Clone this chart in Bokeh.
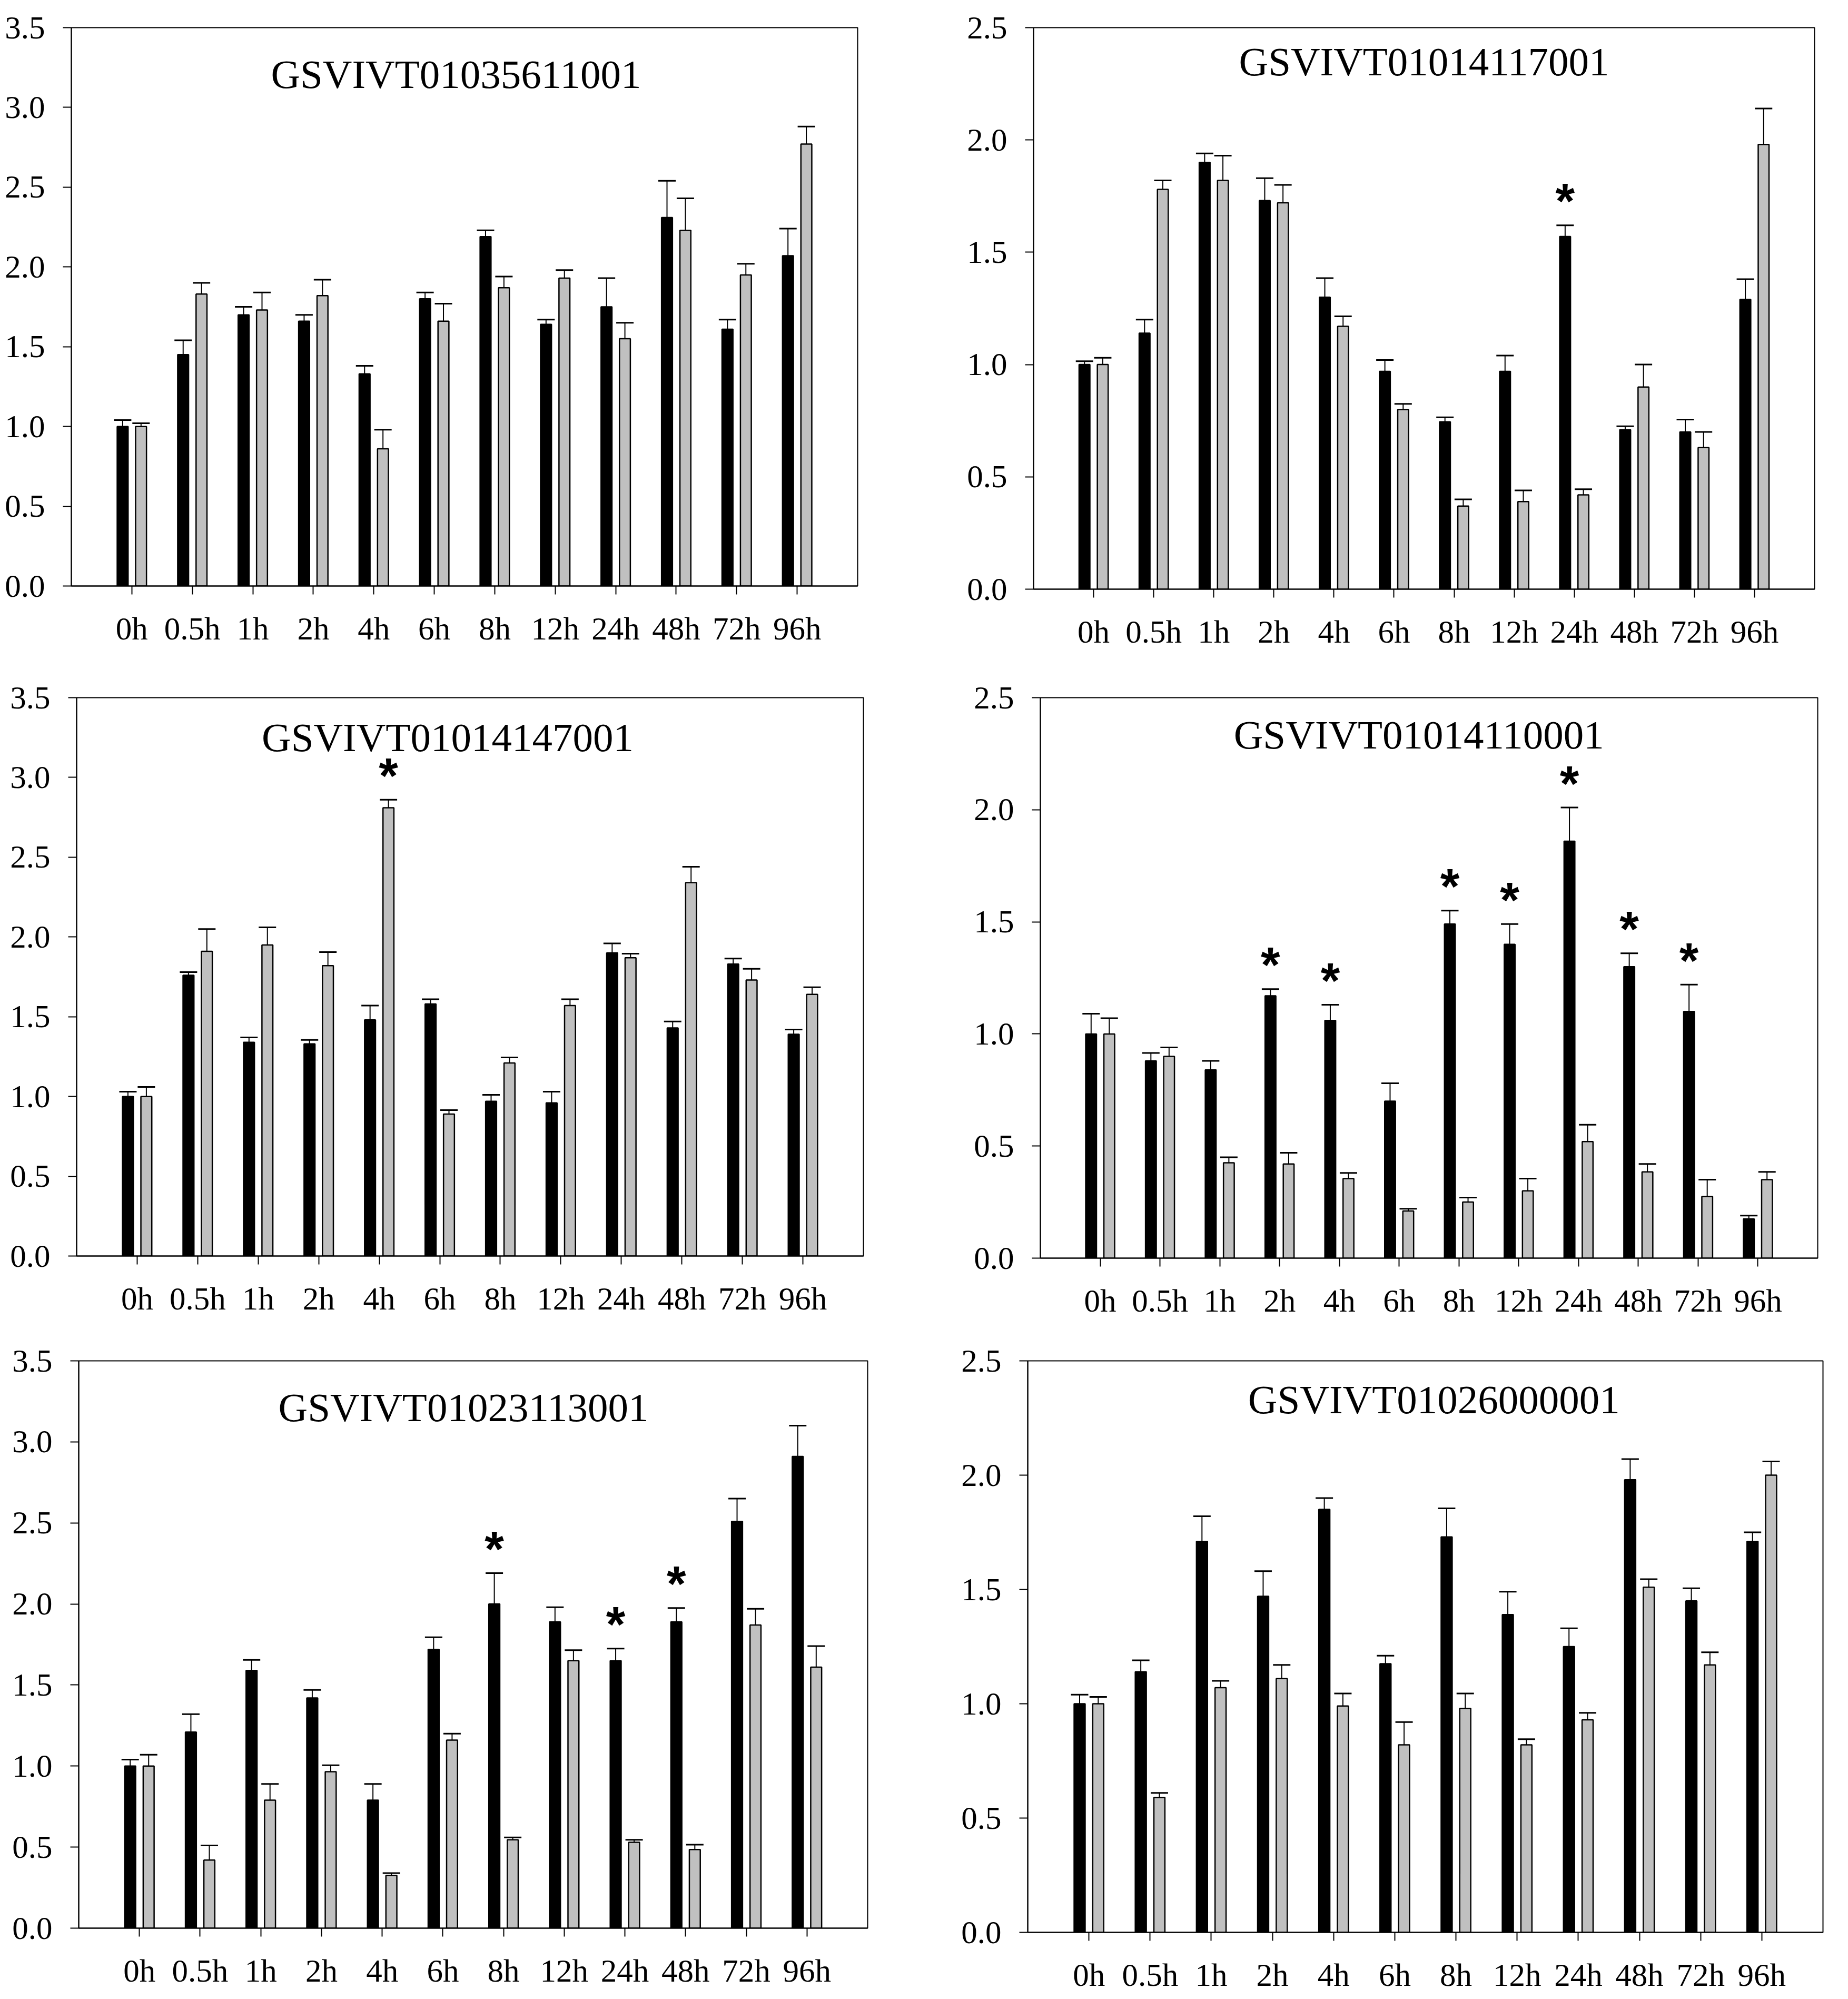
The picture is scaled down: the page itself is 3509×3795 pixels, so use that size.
import numpy as np
from bokeh.plotting import figure
from bokeh.models import (ColumnDataSource, FixedTicker, PrintfTickFormatter,
                          Whisker, TeeHead, Label, Range1d)
from bokeh.layouts import row, column
from bokeh.core.properties import value
from bokeh.embed import file_html
from bokeh.resources import INLINE

# ---------------- data ----------------
times = ["0h", "0.5h", "1h", "2h", "4h", "6h", "8h", "12h", "24h", "48h", "72h", "96h"]

genes = ["GSVIVT01035611001", "GSVIVT01014117001", "GSVIVT01014147001",
         "GSVIVT01014110001", "GSVIVT01023113001", "GSVIVT01026000001"]
y_max = [3.5, 2.5, 3.5, 2.5, 3.5, 2.5]

black_1 = [1.00, 1.45, 1.70, 1.66, 1.33, 1.80, 2.19, 1.64, 1.75, 2.31, 1.61, 2.07]
black_err_1 = [0.04, 0.09, 0.05, 0.04, 0.05, 0.04, 0.04, 0.03, 0.18, 0.23, 0.06, 0.17]
gray_1 = [1.00, 1.83, 1.73, 1.82, 0.86, 1.66, 1.87, 1.93, 1.55, 2.23, 1.95, 2.77]
gray_err_1 = [0.02, 0.07, 0.11, 0.10, 0.12, 0.11, 0.07, 0.05, 0.10, 0.20, 0.07, 0.11]

black_2 = [1.00, 1.14, 1.90, 1.73, 1.30, 0.97, 0.745, 0.97, 1.57, 0.71, 0.70, 1.29]
black_err_2 = [0.015, 0.06, 0.04, 0.10, 0.085, 0.05, 0.02, 0.07, 0.05, 0.015, 0.055, 0.09]
gray_2 = [1.00, 1.78, 1.82, 1.72, 1.17, 0.80, 0.37, 0.39, 0.42, 0.90, 0.63, 1.98]
gray_err_2 = [0.03, 0.04, 0.11, 0.08, 0.045, 0.025, 0.03, 0.05, 0.025, 0.10, 0.07, 0.16]

black_3 = [1.00, 1.76, 1.34, 1.33, 1.48, 1.58, 0.97, 0.96, 1.90, 1.43, 1.83, 1.39]
black_err_3 = [0.03, 0.02, 0.03, 0.025, 0.09, 0.03, 0.04, 0.07, 0.06, 0.04, 0.035, 0.03]
gray_3 = [1.00, 1.91, 1.95, 1.82, 2.81, 0.89, 1.21, 1.57, 1.87, 2.34, 1.73, 1.64]
gray_err_3 = [0.06, 0.14, 0.11, 0.085, 0.05, 0.025, 0.035, 0.04, 0.025, 0.10, 0.07, 0.045]

black_4 = [1.00, 0.88, 0.84, 1.17, 1.06, 0.70, 1.49, 1.40, 1.86, 1.30, 1.10, 0.175]
black_err_4 = [0.09, 0.035, 0.04, 0.03, 0.07, 0.08, 0.06, 0.09, 0.15, 0.06, 0.12, 0.015]
gray_4 = [1.00, 0.90, 0.425, 0.42, 0.355, 0.21, 0.25, 0.30, 0.52, 0.385, 0.275, 0.35]
gray_err_4 = [0.07, 0.04, 0.025, 0.05, 0.025, 0.01, 0.02, 0.055, 0.075, 0.035, 0.075, 0.035]

black_5 = [1.00, 1.21, 1.59, 1.42, 0.79, 1.72, 2.00, 1.89, 1.65, 1.89, 2.51, 2.91]
black_err_5 = [0.04, 0.11, 0.065, 0.05, 0.10, 0.075, 0.19, 0.09, 0.075, 0.085, 0.14, 0.19]
gray_5 = [1.00, 0.42, 0.79, 0.965, 0.325, 1.16, 0.545, 1.65, 0.53, 0.485, 1.87, 1.61]
gray_err_5 = [0.07, 0.09, 0.10, 0.04, 0.015, 0.04, 0.015, 0.065, 0.015, 0.03, 0.10, 0.13]

black_6 = [1.00, 1.14, 1.71, 1.47, 1.85, 1.175, 1.73, 1.39, 1.25, 1.98, 1.45, 1.71]
black_err_6 = [0.04, 0.05, 0.11, 0.11, 0.05, 0.035, 0.125, 0.10, 0.08, 0.09, 0.055, 0.04]
gray_6 = [1.00, 0.59, 1.07, 1.11, 0.99, 0.82, 0.98, 0.82, 0.93, 1.51, 1.17, 2.00]
gray_err_6 = [0.03, 0.02, 0.03, 0.06, 0.055, 0.10, 0.065, 0.025, 0.03, 0.035, 0.055, 0.06]

# significance marks (time labels)
black_star = [[], ["24h"], [], ["2h", "4h", "8h", "12h", "24h", "48h", "72h"],
              ["8h", "24h", "48h"], []]
gray_star = [[], [], ["4h"], [], [], []]

blacks = [black_1, black_2, black_3, black_4, black_5, black_6]
black_errs = [black_err_1, black_err_2, black_err_3, black_err_4, black_err_5, black_err_6]
grays = [gray_1, gray_2, gray_3, gray_4, gray_5, gray_6]
gray_errs = [gray_err_1, gray_err_2, gray_err_3, gray_err_4, gray_err_5, gray_err_6]

# ---------------- layout / style ----------------
# (left border, frame width, right border, top border, frame height, bottom border)
layout_px = [
    (135, 1493, 164, 52, 1060, 140),
    (170, 1483, 37, 34, 1066, 152),
    (145, 1494, 153, 72, 1060, 128),
    (183, 1476, 31, 68, 1064, 128),
    (149, 1498, 145, 71, 1077, 119),
    (159, 1510, 21, 67, 1085, 115),
]
# title anchor: (shift of centre in category units, centre distance below top in px)
title_pos = [(-0.14, 88), (0.0, 64), (-0.37, 75), (-0.17, 70), (-0.16, 88), (0.14, 73)]

BAR_W = 0.18
OFF = 0.152
GRAY = "#c0c0c0"
SERIF = "Liberation Serif"
STAR_GAP_PX = 38


def make_panel(k):
    lb, fw, rb, tb, fh, bb = layout_px[k]
    ymax = y_max[k]
    n = len(times)
    x = np.arange(1, n + 1)
    b = np.array(blacks[k]); be = np.array(black_errs[k])
    g = np.array(grays[k]); ge = np.array(gray_errs[k])
    src = ColumnDataSource(dict(xb=x - OFF, xg=x + OFF, b=b, g=g, bu=b + be, gu=g + ge))

    p = figure(x_range=Range1d(0, n + 1), y_range=Range1d(0, ymax),
               frame_width=fw, frame_height=fh,
               min_border_left=lb, min_border_right=rb,
               min_border_top=tb, min_border_bottom=bb,
               output_backend="svg", toolbar_location=None, tools="")
    p.vbar(x="xb", top="b", width=BAR_W, source=src,
           fill_color="black", line_color="black", line_width=2.5)
    p.vbar(x="xg", top="g", width=BAR_W, source=src,
           fill_color=GRAY, line_color="black", line_width=2.5)
    for base, lo, up in (("xb", "b", "bu"), ("xg", "g", "gu")):
        p.add_layout(Whisker(source=src, base=base, lower=lo, upper=up,
                             dimension="height", line_color="black", line_width=2,
                             lower_head=None,
                             upper_head=TeeHead(size=33, line_width=3, line_color="black")))

    sx, sy = [], []
    for t in black_star[k]:
        i = times.index(t)
        sx.append(x[i] - OFF); sy.append(b[i] + be[i])
    for t in gray_star[k]:
        i = times.index(t)
        sx.append(x[i] + OFF); sy.append(g[i] + ge[i])
    if sx:
        lift = STAR_GAP_PX / fh * ymax
        ssrc = ColumnDataSource(dict(x=sx, y=np.array(sy) + lift, t=["*"] * len(sx)))
        p.text(x="x", y="y", text="t", source=ssrc, text_align="center",
               text_baseline="alphabetic", y_offset=-8,
               text_font=value("Liberation Sans"), text_font_style="bold",
               text_font_size=value("94px"), text_color="black")

    dx, dpx = title_pos[k]
    p.add_layout(Label(x=(n + 1) / 2 + dx, y=ymax - dpx / fh * ymax, text=genes[k],
                       text_font=SERIF, text_font_size="77px", text_color="black",
                       text_align="center", text_baseline="middle"))

    p.xaxis.ticker = FixedTicker(ticks=[int(v) for v in x])
    p.xaxis.major_label_overrides = {int(v): t for v, t in zip(x, times)}
    p.yaxis.ticker = FixedTicker(ticks=list(np.arange(0, ymax + 0.01, 0.5)))
    p.yaxis.formatter = PrintfTickFormatter(format="%.1f")
    for ax in (p.xaxis[0], p.yaxis[0]):
        ax.major_tick_in = 0
        ax.major_tick_out = 16
        ax.minor_tick_line_color = None
        ax.axis_line_width = 2
        ax.axis_line_color = "black"
        ax.major_tick_line_width = 2
        ax.major_tick_line_color = "black"
        ax.major_label_text_font = SERIF
        ax.major_label_text_font_size = "61px"
        ax.major_label_text_color = "black"
    p.xaxis.major_label_standoff = 31
    p.yaxis.major_label_standoff = 34
    p.grid.visible = False
    p.outline_line_color = "black"
    p.outline_line_width = 2
    p.outline_line_alpha = 1.0
    p.background_fill_color = "white"
    p.border_fill_color = "white"
    return p


panels = [make_panel(k) for k in range(6)]
page = column(row(panels[0], panels[1]), row(panels[2], panels[3]),
              row(panels[4], panels[5]))

open("out.html", "w").write(file_html(page, INLINE))
